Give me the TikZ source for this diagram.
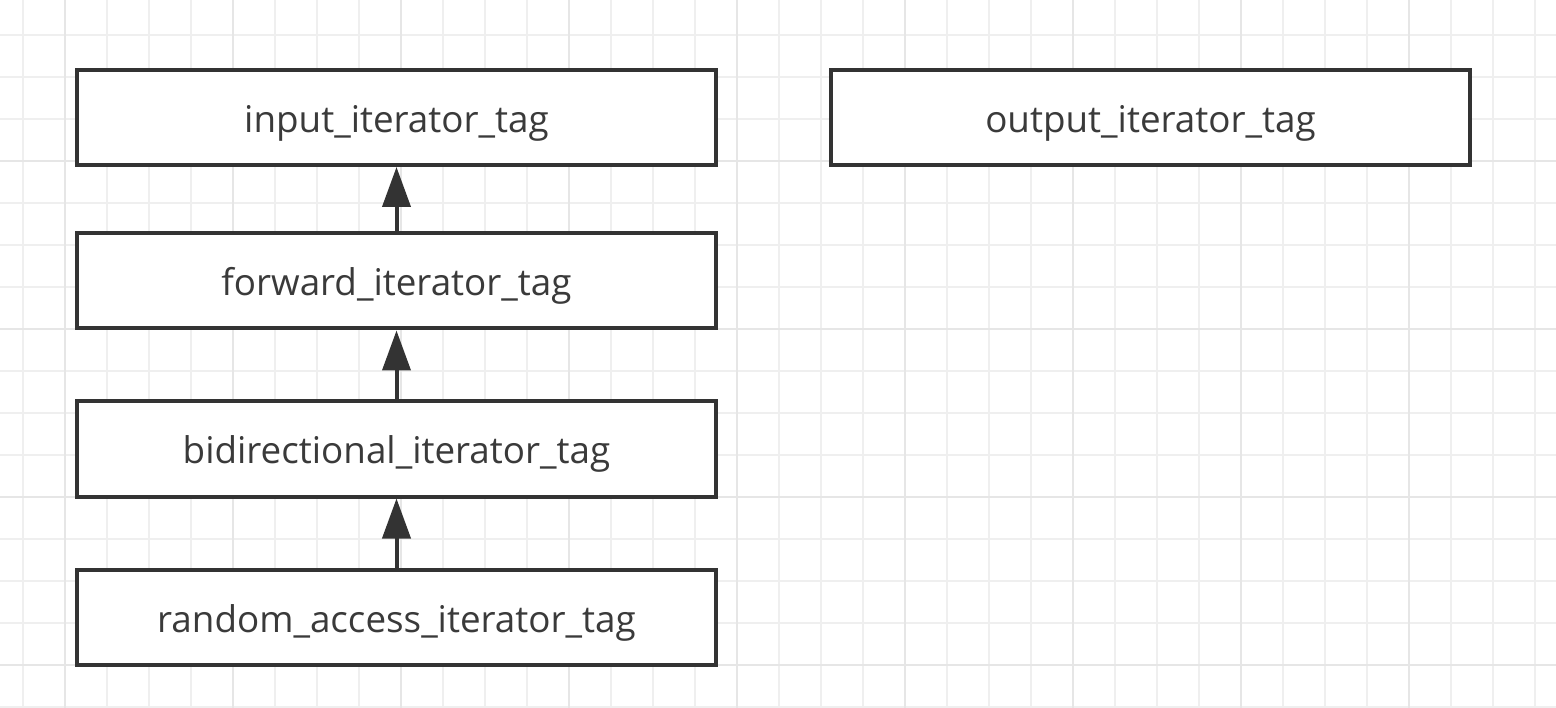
\documentclass[tikz,border=0pt]{standalone}
\usepackage{fontspec}
\setmainfont{Open Sans}
\usetikzlibrary{arrows.meta}
\definecolor{ink}{HTML}{333333}
\definecolor{label}{HTML}{3A3A3A}
\definecolor{gridminor}{HTML}{EFEFEF}
\definecolor{gridmajor}{HTML}{E6E6E6}
\tikzset{
  tagbox/.style={draw=ink, line width=4pt, fill=white, minimum width=639pt,
    minimum height=95pt, inner sep=0pt, text=label,
    text height=33pt, text depth=3pt,
    font=\fontsize{36.8pt}{44pt}\selectfont},
  inherits/.style={draw=ink, line width=4pt,
    -{Triangle[length=40pt,width=28pt]}},
}
\begin{document}
\begin{tikzpicture}[x=1pt,y=-1pt]
  % canvas
  \fill[white] (0,0) rectangle (1556,708);
  \useasboundingbox (0,0) rectangle (1556,708);
  % background grid: fine lines every 42, stronger every 168
  \foreach \gx in {23,65,...,1556}
    \draw[gridminor, line width=2pt] (\gx,0) -- (\gx,708);
  \foreach \gy in {35,77,...,708}
    \draw[gridminor, line width=2pt] (0,\gy) -- (1556,\gy);
  \foreach \gx in {65,233,...,1556}
    \draw[gridmajor, line width=2.5pt] (\gx,0) -- (\gx,708);
  \foreach \gy in {161,329,497,665}
    \draw[gridmajor, line width=2.5pt] (0,\gy) -- (1556,\gy);
  % iterator tags
  \node[tagbox] (input)  at (396.5,117.5) {input\_iterator\_tag};
  \node[tagbox] (fwd)    at (396.5,281)   {forward\_iterator\_tag};
  \node[tagbox] (bidir)  at (396.5,449)   {bidirectional\_iterator\_tag};
  \node[tagbox] (random) at (396.5,617)   {random\_access\_iterator\_tag};
  \node[tagbox] (output) at (1150.5,117.5) {output\_iterator\_tag};
  % inheritance arrows
  \draw[inherits] (fwd.north) -- (input.south);
  \draw[inherits] (bidir.north) -- (fwd.south);
  \draw[inherits] (random.north) -- (bidir.south);
\end{tikzpicture}
\end{document}
